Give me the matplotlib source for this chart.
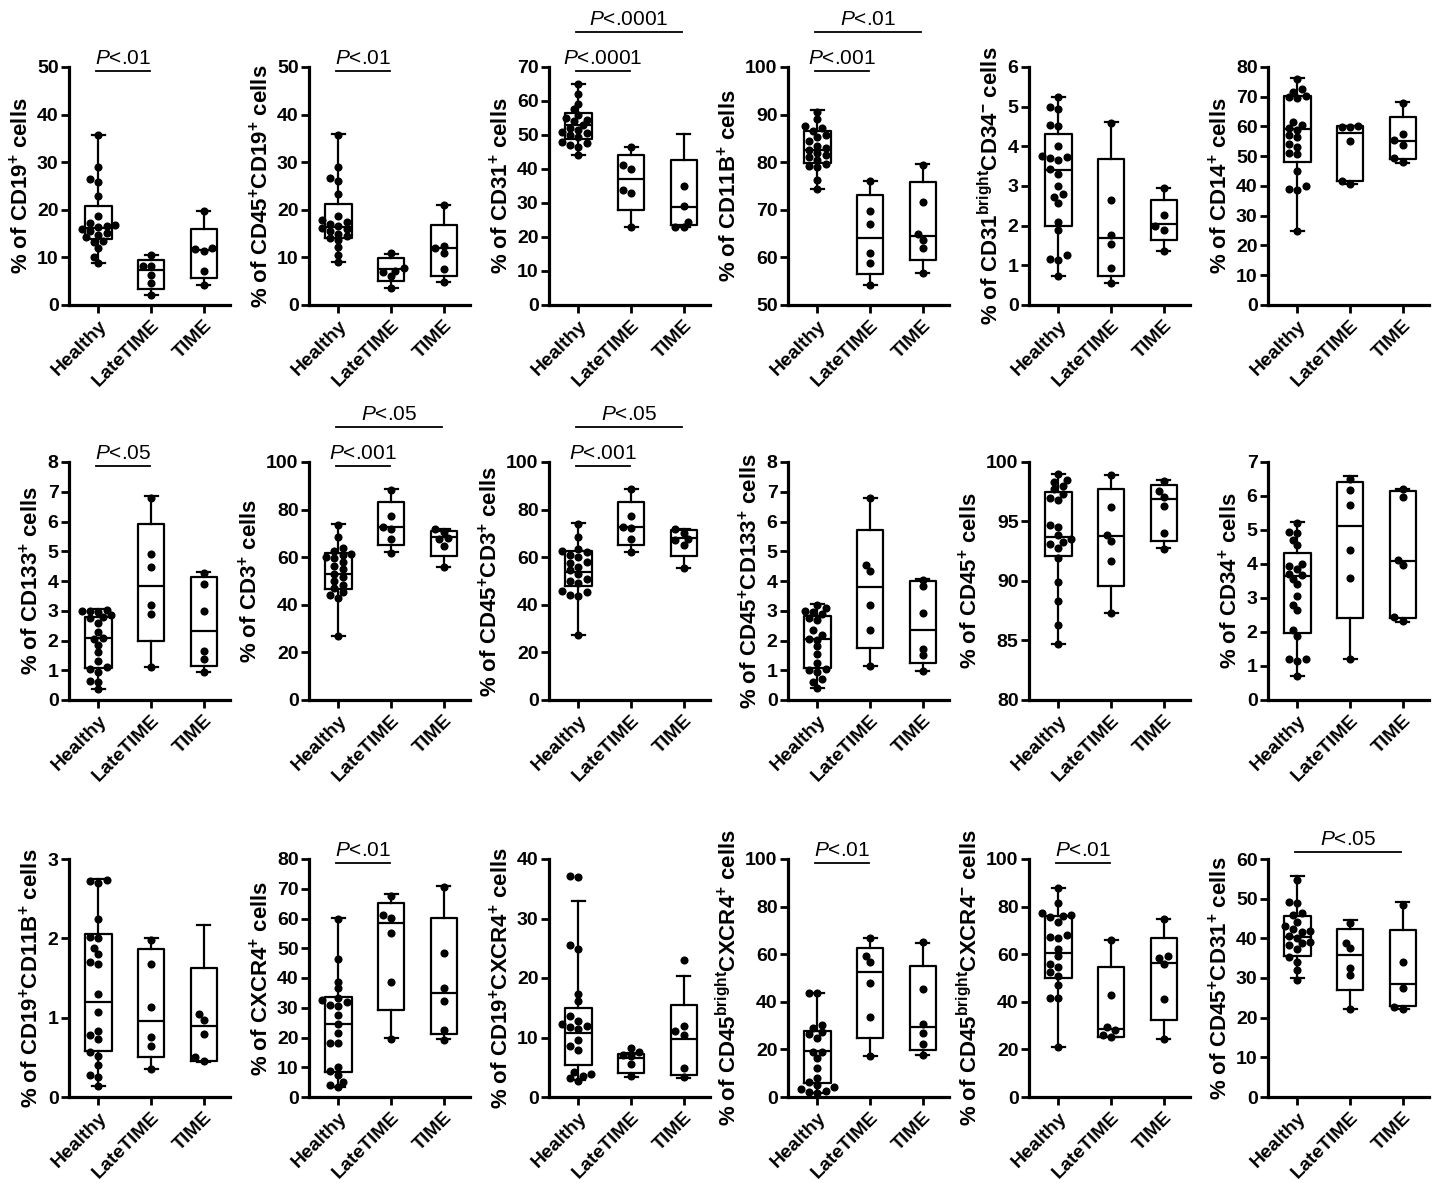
import numpy as np
import matplotlib
matplotlib.use("Agg")
import matplotlib.pyplot as plt

plt.rcParams['font.family'] = ['Liberation Sans', 'DejaVu Sans']
plt.rcParams['mathtext.fontset'] = 'custom'
plt.rcParams['mathtext.rm'] = 'Liberation Sans'
plt.rcParams['mathtext.it'] = 'Liberation Sans:italic'
plt.rcParams['mathtext.bf'] = 'Liberation Sans:bold'
plt.rcParams['mathtext.default'] = 'regular'

groups = ["Healthy", "LateTIME", "TIME"]

# ---------------- data ----------------
# box rows: [whisker low, Q1, median, Q3, whisker high] for Healthy, LateTIME, TIME
p01_label = "% of CD19$^{+}$ cells"
p01_healthy = [35.7, 28.9, 26.5, 25.8, 22.8, 18.6, 17.3, 16.9, 16.3, 16.0, 15.6, 15.2, 14.7, 14.2, 13.5, 13.2, 12.0, 10.1, 8.8, 16.6]
p01_late = [10.5, 8.1, 8.1, 6.4, 4.6, 2.1]
p01_time = [19.7, 11.9, 11.7, 11.3, 7.1, 4.1]
p01_box = [[8.8, 13.9, 16.2, 20.8, 35.7], [2.2, 3.4, 7.4, 9.4, 10.5], [4.2, 5.6, 11.6, 15.9, 19.8]]

p02_label = "% of CD45$^{+}$CD19$^{+}$ cells"
p02_healthy = [35.8, 29.0, 26.6, 26.0, 23.4, 18.7, 17.8, 17.5, 17.0, 16.6, 16.2, 16.0, 15.5, 15.0, 14.6, 14.0, 13.6, 12.2, 10.6, 9.0]
p02_late = [10.9, 7.8, 7.2, 6.9, 6.0, 3.5]
p02_time = [21.0, 12.4, 12.0, 11.0, 7.6, 4.9]
p02_box = [[9.0, 14.1, 16.4, 21.2, 36.0], [3.5, 5.1, 7.6, 9.8, 10.8], [4.9, 6.1, 11.9, 16.9, 21.0]]

p03_label = "% of CD31$^{+}$ cells"
p03_healthy = [65.0, 62.0, 59.0, 57.5, 56.0, 55.0, 54.5, 54.0, 53.0, 52.0, 51.5, 51.0, 50.5, 50.0, 49.5, 48.0, 47.5, 47.0, 46.5, 44.0]
p03_late = [46.4, 41.2, 40.0, 33.7, 32.8, 23.0]
p03_time = [35.0, 29.0, 24.3, 23.0, 22.8]
p03_box = [[44.0, 48.7, 52.8, 56.5, 65.1], [23.0, 28.0, 37.0, 44.0, 46.5], [23.0, 23.5, 28.9, 42.7, 50.2]]

p04_label = "% of CD11B$^{+}$ cells"
p04_healthy = [90.6, 89.0, 87.5, 87.2, 86.5, 85.8, 85.2, 84.5, 83.5, 83.0, 82.6, 82.0, 81.5, 81.0, 80.5, 79.6, 79.2, 78.9, 76.2, 74.3]
p04_late = [76.0, 69.8, 67.0, 61.0, 58.9, 54.2]
p04_time = [79.5, 71.7, 64.9, 63.7, 61.9, 56.7]
p04_box = [[74.4, 79.9, 82.6, 86.6, 91.0], [54.2, 56.6, 64.1, 73.2, 76.0], [56.7, 59.5, 64.4, 75.8, 79.6]]

p05_label = "% of CD31$^{bright}$CD34$^{-}$ cells"
p05_healthy = [5.25, 5.0, 4.95, 4.55, 4.5, 4.0, 3.75, 3.72, 3.7, 3.65, 3.42, 3.3, 3.0, 2.8, 2.72, 2.58, 2.1, 1.88, 1.25, 1.17, 1.13, 0.74]
p05_late = [4.6, 2.65, 1.77, 1.55, 0.93, 0.56]
p05_time = [2.95, 2.28, 2.0, 1.88, 1.35]
p05_box = [[0.73, 2.0, 3.4, 4.3, 5.25], [0.56, 0.74, 1.68, 3.67, 4.62], [1.35, 1.63, 2.03, 2.64, 2.95]]

p06_label = "% of CD14$^{+}$ cells"
p06_healthy = [75.8, 72.5, 71.5, 70.2, 69.8, 69.5, 61.5, 60.5, 59.5, 58.8, 57.0, 56.5, 54.0, 53.0, 51.0, 50.8, 45.0, 40.0, 39.0, 38.8, 24.8]
p06_late = [60.0, 59.9, 59.7, 55.0, 41.8, 40.8]
p06_time = [67.9, 57.6, 55.3, 53.7, 49.3, 48.0]
p06_box = [[24.8, 48.2, 59.2, 70.1, 76.3], [40.8, 41.6, 57.8, 60.3, 60.3], [47.8, 49.0, 55.2, 63.3, 68.3]]

p07_label = "% of CD133$^{+}$ cells"
p07_healthy = [3.02, 3.0, 2.98, 2.95, 2.85, 2.78, 2.75, 2.6, 2.3, 2.07, 2.05, 1.85, 1.6, 1.3, 1.1, 1.05, 0.95, 0.65, 0.6, 0.38]
p07_late = [6.8, 4.91, 4.47, 3.18, 2.9, 1.1]
p07_time = [4.27, 3.9, 3.0, 1.65, 1.38, 0.93]
p07_box = [[0.38, 1.07, 2.07, 2.78, 3.05], [1.1, 2.0, 3.84, 5.93, 6.85], [0.93, 1.15, 2.33, 4.12, 4.3]]

p08_label = "% of CD3$^{+}$ cells"
p08_healthy = [73.5, 68.5, 64.0, 62.5, 61.5, 61.0, 60.0, 59.5, 58.0, 56.5, 55.0, 53.0, 51.5, 50.0, 48.5, 47.0, 45.5, 44.0, 43.0, 27.0]
p08_late = [88.3, 77.2, 72.5, 72.0, 67.8, 61.8]
p08_time = [71.9, 70.5, 68.0, 67.5, 64.8, 55.7]
p08_box = [[27.0, 46.7, 53.0, 61.8, 73.8], [62.0, 65.0, 72.8, 83.0, 88.5], [55.7, 60.3, 68.5, 71.0, 72.0]]

p09_label = "% of CD45$^{+}$CD3$^{+}$ cells"
p09_healthy = [74.0, 68.5, 63.5, 62.5, 62.0, 61.0, 60.0, 58.0, 57.5, 56.0, 54.5, 53.0, 51.0, 50.0, 49.0, 46.0, 45.5, 44.0, 43.5, 27.2]
p09_late = [88.5, 77.2, 72.5, 72.3, 67.5, 62.0]
p09_time = [71.8, 70.2, 67.5, 67.1, 65.1, 55.6]
p09_box = [[27.2, 47.8, 53.8, 62.4, 74.3], [62.2, 65.2, 72.8, 83.2, 88.7], [55.6, 60.5, 68.2, 71.4, 72.0]]

p10_label = "% of CD45$^{+}$CD133$^{+}$ cells"
p10_healthy = [3.2, 3.1, 3.0, 2.95, 2.9, 2.75, 2.7, 2.35, 2.2, 2.05, 2.02, 1.8, 1.55, 1.25, 1.05, 1.0, 0.95, 0.7, 0.6, 0.4]
p10_late = [6.78, 4.55, 4.35, 3.18, 2.35, 1.13]
p10_time = [4.05, 3.83, 2.94, 1.72, 1.5, 0.98]
p10_box = [[0.42, 1.07, 2.05, 2.83, 3.22], [1.13, 1.75, 3.8, 5.72, 6.8], [0.98, 1.23, 2.35, 4.0, 4.08]]

p11_label = "% of CD45$^{+}$ cells"
p11_healthy = [99.0, 98.5, 98.3, 98.0, 97.7, 97.3, 97.0, 96.8, 94.7, 94.5, 93.9, 93.5, 93.3, 93.1, 92.8, 91.9, 89.9, 88.3, 86.3, 84.7]
p11_late = [98.9, 96.2, 93.9, 93.4, 91.7, 87.3]
p11_time = [98.4, 97.6, 97.1, 96.3, 94.0, 92.7]
p11_box = [[84.7, 92.1, 93.7, 97.45, 99.0], [87.3, 89.6, 93.8, 97.7, 98.9], [92.8, 93.4, 96.9, 98.1, 98.5]]

p12_label = "% of CD34$^{+}$ cells"
p12_healthy = [5.2, 4.95, 4.92, 4.7, 4.55, 4.0, 3.95, 3.85, 3.72, 3.68, 3.55, 3.4, 3.05, 2.8, 2.65, 2.05, 1.88, 1.22, 1.2, 1.15, 0.72]
p12_late = [6.5, 6.18, 5.75, 4.4, 3.6, 1.2]
p12_time = [6.2, 5.98, 4.13, 3.98, 2.45, 2.32]
p12_box = [[0.72, 1.98, 3.65, 4.32, 5.25], [1.2, 2.4, 5.13, 6.42, 6.6], [2.3, 2.4, 4.1, 6.14, 6.22]]

p13_label = "% of CD19$^{+}$CD11B$^{+}$ cells"
p13_healthy = [2.73, 2.72, 2.7, 2.25, 2.02, 2.0, 1.88, 1.8, 1.7, 1.68, 1.3, 1.07, 0.83, 0.78, 0.73, 0.57, 0.52, 0.4, 0.28, 0.25, 0.14]
p13_late = [1.98, 1.68, 1.14, 0.76, 0.64, 0.35]
p13_time = [1.05, 0.97, 0.8, 0.5, 0.46]
p13_box = [[0.14, 0.58, 1.2, 2.05, 2.75], [0.35, 0.5, 0.96, 1.87, 2.01], [0.44, 0.46, 0.9, 1.62, 2.17]]

p14_label = "% of CXCR4$^{+}$ cells"
p14_healthy = [60.0, 46.5, 38.7, 36.5, 33.2, 32.5, 31.8, 31.0, 30.5, 27.5, 24.7, 21.5, 18.3, 18.0, 10.2, 8.8, 7.5, 5.0, 4.2, 3.2]
p14_late = [67.5, 61.2, 60.2, 55.2, 38.6, 19.6]
p14_time = [70.5, 48.5, 36.5, 32.3, 22.5, 19.3]
p14_box = [[3.5, 8.5, 24.5, 33.6, 60.3], [19.7, 29.4, 58.5, 65.2, 68.2], [19.4, 21.3, 35.0, 60.3, 70.8]]

p15_label = "% of CD19$^{+}$CXCR4$^{+}$ cells"
p15_healthy = [37.2, 37.0, 25.5, 24.9, 17.3, 16.2, 13.6, 12.8, 12.2, 12.0, 11.8, 11.5, 9.5, 8.5, 7.9, 4.2, 3.9, 3.6, 3.2, 2.7]
p15_late = [8.3, 7.6, 7.1, 6.9, 5.5, 3.6]
p15_time = [23.0, 11.9, 11.1, 10.5, 4.8, 3.4]
p15_box = [[2.8, 5.4, 10.8, 15.0, 33.0], [3.4, 4.0, 6.6, 7.2, 7.4], [3.2, 3.7, 9.8, 15.5, 20.3]]

p16_label = "% of CD45$^{bright}$CXCR4$^{+}$ cells"
p16_healthy = [43.8, 43.5, 30.2, 29.2, 27.3, 26.5, 25.0, 19.0, 18.8, 16.5, 12.3, 7.8, 6.2, 4.9, 4.0, 3.3, 2.6, 2.0, 1.8]
p16_late = [67.0, 59.3, 56.8, 48.0, 33.5, 17.1]
p16_time = [65.0, 45.5, 30.5, 27.0, 22.3, 17.5]
p16_box = [[1.8, 5.8, 19.3, 27.6, 43.8], [17.3, 25.0, 52.5, 62.7, 66.8], [17.5, 19.8, 29.6, 55.2, 64.5]]

p17_label = "% of CD45$^{bright}$CXCR4$^{-}$ cells"
p17_healthy = [88.0, 81.5, 77.5, 76.5, 76.2, 75.5, 73.5, 68.0, 67.3, 67.0, 62.2, 59.4, 56.0, 54.5, 52.5, 51.0, 47.0, 41.8, 41.6, 20.8]
p17_late = [66.0, 43.0, 29.3, 28.0, 26.0, 25.3]
p17_time = [75.0, 59.2, 58.2, 55.8, 41.3, 24.3]
p17_box = [[20.8, 50.2, 60.6, 76.2, 87.7], [25.3, 25.4, 28.5, 54.6, 66.0], [24.3, 32.3, 56.5, 66.8, 74.8]]

p18_label = "% of CD45$^{+}$CD31$^{+}$ cells"
p18_healthy = [54.8, 49.2, 49.0, 46.5, 45.8, 44.2, 43.0, 42.3, 41.8, 41.5, 40.7, 40.0, 39.2, 38.7, 38.3, 37.3, 35.2, 34.1, 32.0, 29.5]
p18_late = [43.9, 38.8, 37.5, 32.4, 30.7, 22.2]
p18_time = [48.3, 34.1, 27.6, 22.8, 22.1]
p18_box = [[30.0, 35.6, 40.3, 45.6, 55.8], [22.3, 27.0, 35.8, 42.3, 44.7], [22.2, 23.0, 28.5, 42.0, 49.1]]

# y-axis ranges: (min, max, step)
y_ranges = [(0, 50, 10), (0, 50, 10), (0, 70, 10), (50, 100, 10), (0, 6, 1), (0, 80, 10),
            (0, 8, 1), (0, 100, 20), (0, 100, 20), (0, 8, 1), (80, 100, 5), (0, 7, 1),
            (0, 3, 1), (0, 80, 10), (0, 40, 10), (0, 100, 20), (0, 100, 20), (0, 60, 10)]

# significance annotations: panel index -> list of (group a, group b, text)
sig_tests = {
    0: [(0, 1, ".01")],
    1: [(0, 1, ".01")],
    2: [(0, 1, ".0001"), (0, 2, ".0001")],
    3: [(0, 1, ".001"), (0, 2, ".01")],
    6: [(0, 1, ".05")],
    7: [(0, 1, ".001"), (0, 2, ".05")],
    8: [(0, 1, ".001"), (0, 2, ".05")],
    13: [(0, 1, ".01")],
    15: [(0, 1, ".01")],
    16: [(0, 1, ".01")],
    17: [(0, 2, ".05")],
}

panels = [
    (p01_label, p01_healthy, p01_late, p01_time, p01_box),
    (p02_label, p02_healthy, p02_late, p02_time, p02_box),
    (p03_label, p03_healthy, p03_late, p03_time, p03_box),
    (p04_label, p04_healthy, p04_late, p04_time, p04_box),
    (p05_label, p05_healthy, p05_late, p05_time, p05_box),
    (p06_label, p06_healthy, p06_late, p06_time, p06_box),
    (p07_label, p07_healthy, p07_late, p07_time, p07_box),
    (p08_label, p08_healthy, p08_late, p08_time, p08_box),
    (p09_label, p09_healthy, p09_late, p09_time, p09_box),
    (p10_label, p10_healthy, p10_late, p10_time, p10_box),
    (p11_label, p11_healthy, p11_late, p11_time, p11_box),
    (p12_label, p12_healthy, p12_late, p12_time, p12_box),
    (p13_label, p13_healthy, p13_late, p13_time, p13_box),
    (p14_label, p14_healthy, p14_late, p14_time, p14_box),
    (p15_label, p15_healthy, p15_late, p15_time, p15_box),
    (p16_label, p16_healthy, p16_late, p16_time, p16_box),
    (p17_label, p17_healthy, p17_late, p17_time, p17_box),
    (p18_label, p18_healthy, p18_late, p18_time, p18_box),
]

# ---------------- layout ----------------
W, H = 1437, 1183
fig = plt.figure(figsize=(W / 100, H / 100), dpi=100)
col_left = [69, 309, 549, 788, 1029, 1268]
row_top = [67, 462, 859]
ax_w, ax_h = 161, 238
XMIN, XMAX = -0.56, 2.5
PPU_X = ax_w / (XMAX - XMIN)


def swarm_offsets(vals, ppu_y, diam=6.5, step=0.08, nsteps=4):
    vals = np.asarray(vals, dtype=float)
    order = np.argsort(vals)
    placed = []
    offs = np.zeros(len(vals))
    cands = [0.0]
    for k in range(1, nsteps + 1):
        cands += [-k * step, k * step]
    for i in order:
        y = vals[i] * ppu_y
        best, best_d = cands[0], -1.0
        for c in cands:
            x = c * PPU_X
            d = min([np.hypot(x - px, y - py) for px, py in placed] + [1e9])
            if d >= diam:
                best = c
                break
            if d > best_d:
                best, best_d = c, d
        placed.append((best * PPU_X, y))
        offs[i] = best
    return offs


for idx, (label, hv, lv, tv, box) in enumerate(panels):
    r, c = divmod(idx, 6)
    left = col_left[c] / W
    bottom = 1 - (row_top[r] + ax_h) / H
    ax = fig.add_axes([left, bottom, ax_w / W, ax_h / H])
    ymin, ymax, ystep = y_ranges[idx]
    ppu_y = ax_h / (ymax - ymin)

    stats = []
    for b in box:
        stats.append(dict(whislo=b[0], q1=b[1], med=b[2], q3=b[3], whishi=b[4], fliers=[]))
    ax.bxp(stats, positions=[0, 1, 2], widths=0.5, capwidths=0.25, showfliers=False,
           boxprops=dict(color='black', linewidth=1.6),
           whiskerprops=dict(color='black', linewidth=1.6),
           capprops=dict(color='black', linewidth=1.6),
           medianprops=dict(color='black', linewidth=1.6))

    for g, vals in enumerate([hv, lv, tv]):
        offs = swarm_offsets(vals, ppu_y)
        ax.scatter(g + offs, vals, s=34, color='black', zorder=5, clip_on=False, linewidths=0)

    ax.set_xlim(XMIN, XMAX)
    ax.set_ylim(ymin, ymax)
    ax.set_yticks(np.arange(ymin, ymax + ystep / 2, ystep))
    ax.set_xticks([0, 1, 2])
    ax.set_xticklabels(groups, rotation=45, ha='right', va='top', rotation_mode='anchor',
                       fontsize=14, fontweight='bold')
    for t in ax.get_yticklabels():
        t.set_fontweight('bold')
        t.set_fontsize(14)
    ax.spines['top'].set_visible(False)
    ax.spines['right'].set_visible(False)
    ax.spines['left'].set_linewidth(2.3)
    ax.spines['bottom'].set_linewidth(2.3)
    ax.tick_params(axis='both', direction='out', length=5.5, width=2.0, pad=2)
    ax.tick_params(axis='x', pad=3)
    ax.set_ylabel(label, fontsize=16, fontweight='bold', labelpad=3)

    for (ga, gb, ptxt) in sig_tests.get(idx, []):
        if gb - ga == 1:
            yl = 0.983
        elif len(sig_tests[idx]) > 1:
            yl = 1.147
        else:
            yl = 1.03
        ax.plot([ga - 0.05, gb - 0.03], [yl, yl], color='black', linewidth=1.3,
                transform=ax.get_xaxis_transform(), clip_on=False)
        ax.text((ga + gb) / 2 - 0.04, yl + 0.012, r"$\mathit{P}$<" + ptxt, fontsize=15,
                ha='center', va='bottom', transform=ax.get_xaxis_transform())

fig.savefig("out.png", dpi=100)
